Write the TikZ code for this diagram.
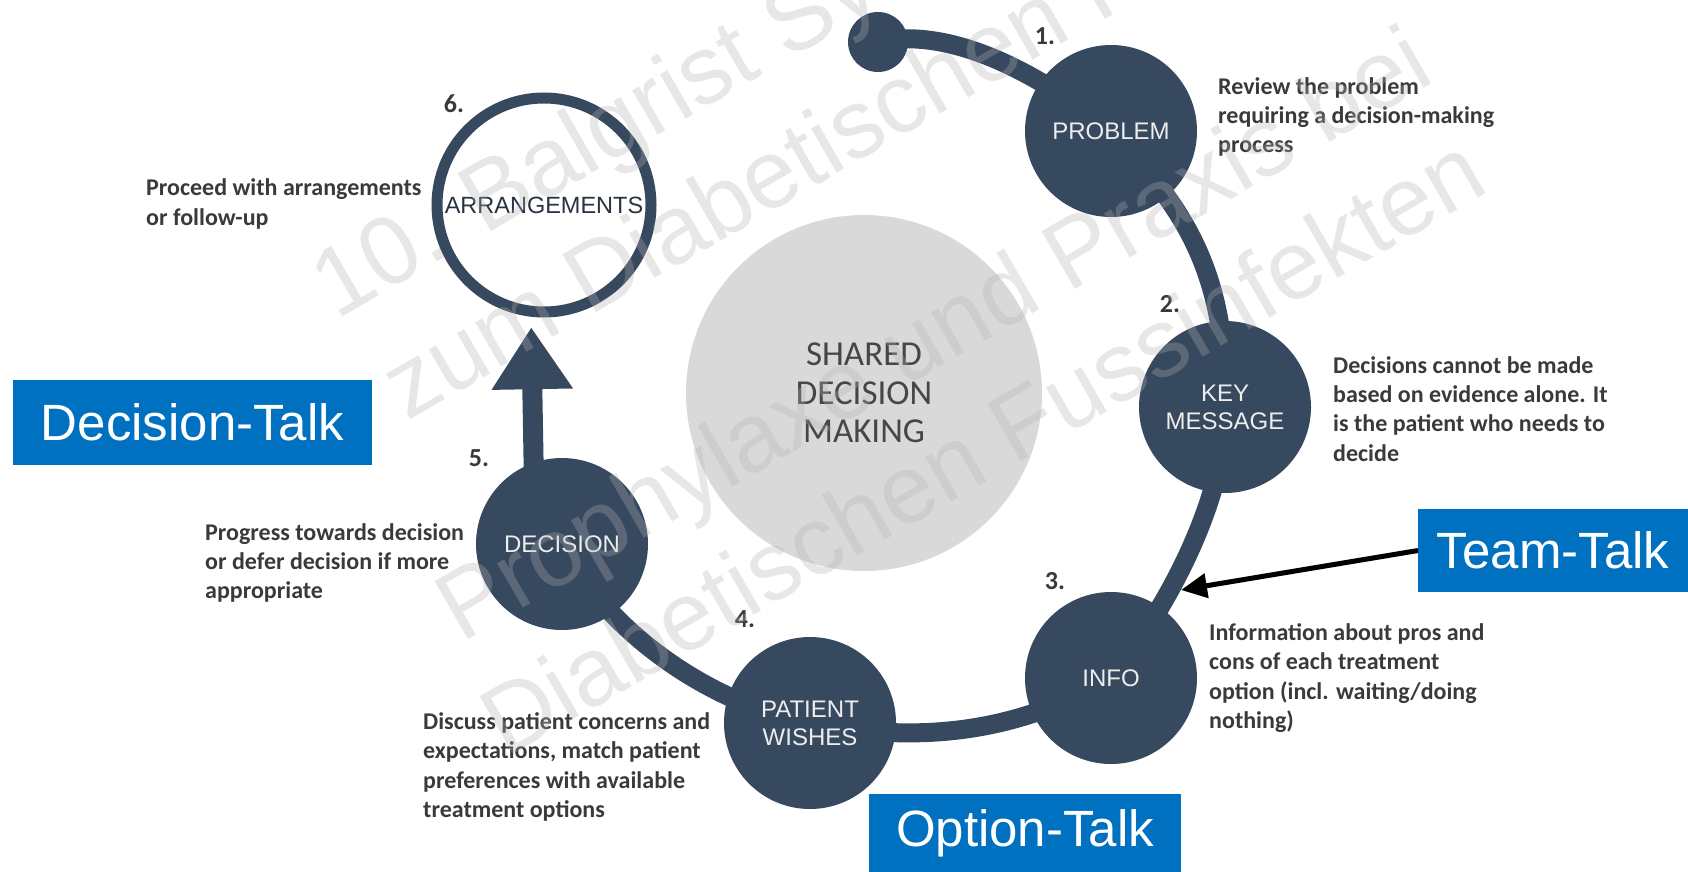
\documentclass[tikz,border=0pt]{standalone}
\usepackage{fontspec}
\setmainfont{Liberation Sans}
\newfontfamily\calib{Carlito}
\usetikzlibrary{arrows.meta,calc}
\definecolor{slate}{RGB}{55,73,94}
\definecolor{talkblue}{RGB}{0,112,192}
\definecolor{notegray}{RGB}{58,58,58}
\definecolor{hubgray}{RGB}{217,217,217}
\definecolor{hubtext}{RGB}{70,70,70}
\pgfdeclarelayer{bg}
\pgfsetlayers{bg,main}
\begin{document}
\begin{tikzpicture}[x=1pt,y=-1pt,
  stage/.style={circle, fill=slate, minimum size=172pt, inner sep=0pt, outer sep=0pt,
    text=white!93!black, font=\fontsize{24}{28}\selectfont, align=center},
  band/.style={draw=slate, line width=19pt},
  stepnum/.style={font=\calib\bfseries\fontsize{26}{30}\selectfont, text=notegray, inner sep=0pt},
  note/.style={font=\calib\bfseries\fontsize{24}{29.3}\selectfont, text=notegray,
    align=left, anchor=west, inner sep=0pt},
  talk/.style={fill=talkblue, text=white, font=\fontsize{51}{60}\selectfont,
    inner sep=0pt, outer sep=0pt},
  wmark/.style={font=\fontsize{97}{116}\selectfont, text=black!30, text opacity=0.3,
    inner sep=0pt, rotate=30, anchor=base west}
]
\useasboundingbox (0,0) rectangle (1688,872);

% central hub
\node[circle, fill=hubgray, minimum size=356pt, inner sep=0pt, text=hubtext,
  font=\calib\fontsize{35}{38.5}\selectfont, align=center]
  (hub) at (864,393) {SHARED\\DECISION\\MAKING};

% stages of the cycle
\node[circle, fill=slate, minimum size=60pt, inner sep=0pt] (start) at (878,42) {};
\node[stage] (problem)  at (1111,131) {PROBLEM};
\node[stage] (keymsg)   at (1225,407) {KEY\\MESSAGE};
\node[stage] (info)     at (1111,678) {INFO};
\node[stage] (wishes)   at (810,723)  {PATIENT\\WISHES};
\node[stage] (decision) at (562,544)  {DECISION};
\node[circle, draw=slate, line width=11pt, minimum size=214pt, inner sep=0pt, outer sep=0pt,
  text=slate!70!black, font=\fontsize{23.5}{28}\selectfont]
  (arrange) at (544,205) {ARRANGEMENTS};

% white page and connecting band, behind the stages
\begin{pgfonlayer}{bg}
\fill[white] (0,0) rectangle (1688,872);
\draw[band] (start.center) .. controls (930,30) and (1010,50) .. (problem.center);
\draw[band] (problem.center) .. controls (1175,200) and (1228,262) .. (keymsg.center);
\draw[band] (keymsg.center) .. controls (1228,480) and (1182,590) .. (info.center);
\draw[band] (info.center) .. controls (1010,737) and (910,742) .. (wishes.center);
\draw[band] (wishes.center) .. controls (700,702) and (600,622) .. (decision.center);
\draw[band, line width=20pt, shorten >=16pt, -{Triangle[width=77pt,length=62pt]}]
  ($(decision.center)+(-27,0)$) -- (arrange.263);
\end{pgfonlayer}

% step numbers
\node[stepnum] (n1) at (1045,36)  {1.};
\node[stepnum] (n2) at (1170,304) {2.};
\node[stepnum] (n3) at (1055,581) {3.};
\node[stepnum] (n4) at (745,619)  {4.};
\node[stepnum] (n5) at (479,458)  {5.};
\node[stepnum] (n6) at (454,104)  {6.};

% notes
\node[note] (t1) at (1218,117) {Review the problem\\requiring a decision-making\\process};
\node[note] (t2) at (1333,409) {Decisions cannot be made\\based on evidence alone. It\\is the patient who needs to\\decide};
\node[note] (t3) at (1209,678) {Information about pros and\\cons of each treatment\\option (incl. waiting/doing\\nothing)};
\node[note] (t4) at (423,767)  {Discuss patient concerns and\\expectations, match patient\\preferences with available\\treatment options};
\node[note] (t5) at (205,563)  {Progress towards decision\\or defer decision if more\\appropriate};
\node[note] (t6) at (146,204)  {Proceed with arrangements\\or follow-up};

% talk labels
\node[talk, minimum width=359pt, minimum height=85pt] (dtalk) at (192.5,422.5) {Decision-Talk};
\node[talk, minimum width=270pt, minimum height=83pt] (ttalk) at (1553,550.5) {Team-Talk};
\node[talk, minimum width=312pt, minimum height=78pt] (otalk) at (1025,833) {Option-Talk};
\coordinate (teamtip) at (1181,590);
\draw[line width=5pt, -{Triangle[width=24pt,length=26pt]}] (ttalk.west) -- (teamtip);

% watermark
\begin{scope}
\clip (0,0) rectangle (1688,872);
\node[wmark] (w1) at (336,321) {10. Balgrist Symposium};
\node[wmark] (w2) at (407,422) {zum Diabetischen Fuss};
\node[wmark] (w3) at (461,644) {Prophylaxe und Praxis bei};
\node[wmark] (w4) at (506,759) {Diabetischen Fussinfekten};
\end{scope}
\end{tikzpicture}
\end{document}
